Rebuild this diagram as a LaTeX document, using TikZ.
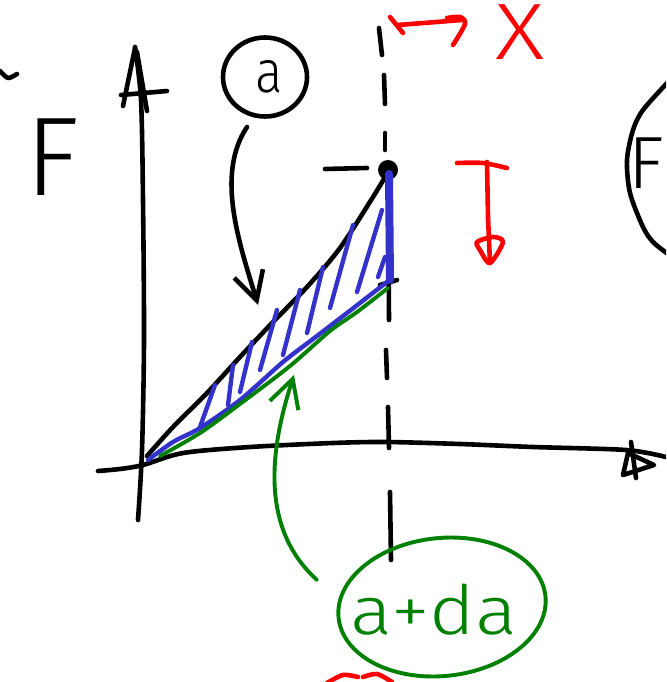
\documentclass[tikz,border=0pt]{standalone}
\usepackage{fontspec}
\usetikzlibrary{arrows.meta,shapes.geometric}
\IfFontExistsTF{Fira Sans Light}{\newfontfamily\handL{Fira Sans Light}}{\newfontfamily\handL{Fira Sans}}
\definecolor{penred}{RGB}{255,0,0}
\definecolor{pengreen}{RGB}{0,128,0}
\definecolor{penblue}{RGB}{51,51,204}
\begin{document}
\begin{tikzpicture}[x=1pt,y=-1pt,line cap=round,line join=round,
  ink/.style={line width=4.6pt},
  blueink/.style={line width=4.4pt,draw=penblue},
  greenink/.style={line width=3.9pt,draw=pengreen},
  redink/.style={line width=4.6pt,draw=penred},
  barb/.style={-{Straight Barb[length=28pt,width=30pt]}},
  word/.style={inner sep=0pt,outer sep=0pt}]
\useasboundingbox (0,0) rectangle (666,682);
\clip (0,0) rectangle (666,682);
% stray stroke at top left
\draw[ink] plot[smooth] coordinates {(0,71) (8,78) (17,74)};
% left F
\node[word,anchor=base west,font=\handL\fontsize{112}{112}\selectfont] (Fleft) at (25,195) {F};
% y axis
\draw[ink] plot[smooth] coordinates {(138,520) (142,450) (144,340) (143,200) (141,100) (135,47)};
\draw[ink] (135,48) -- (123,106);
\draw[ink] (137,52) -- (147,111);
\draw[ink] (121,95) -- (167,91);
% x axis
\draw[ink] plot[smooth] coordinates {(98,471) (120,469) (143,465) (183,453) (250,447) (333,443) (386,442) (460,444) (533,447) (626,450) (666,457)};
\draw[ink] (631,442) -- (636,478);
\draw[ink] (628,453) -- (623,475) -- (654,465) -- cycle;
% point
\node[circle,fill=black,minimum size=20pt,inner sep=0pt] (pt) at (388,170) {};
% dashed vertical
\draw[ink] (379,28) -- (382,55);
\draw[ink] (384,75) -- (385,104);
\draw[ink] (385,133) -- (385,150);
\draw[ink] (pt.center) -- (389,320);
\draw[ink] (386,350) -- (387,378);
\draw[ink] (388,407) -- (389,448);
\draw[ink] (390,492) -- (391,560);
% ticks
\draw[ink] (325,169) -- (367,168);
\draw[ink] (380,285) -- (397,280);
% black curve
\draw[ink] plot[smooth] coordinates {(147,456) (173,427) (207,393) (240,357) (273,322) (307,287) (340,248) (373,197) (388,172)};
% blue area
\draw[blueink] plot[smooth] coordinates {(148,460) (173,442) (200,428) (240,400) (283,362) (313,339) (347,313) (387,282)};
\draw[penblue,line width=8pt] (389,174) -- (390,280);
\foreach \a/\b in {{(200,427)}/{(215,385)},{(228,405)}/{(233,365)},{(240,392)}/{(252,342)},{(260,370)}/{(277,310)},{(283,355)}/{(300,290)},{(307,333)}/{(323,267)},{(330,308)}/{(353,225)},{(357,292)}/{(382,210)},{(378,277)}/{(385,257)}}
  \draw[blueink] \a -- \b;
% green curve
\draw[greenink] plot[smooth] coordinates {(160,456) (200,433) (240,404) (290,366) (330,331) (357,312) (388,288)};
% label a
\node[draw,ellipse,ink,minimum width=84pt,minimum height=79pt,inner sep=0pt] (acirc) at (265,77) {};
\node[word,font=\handL\fontsize{60}{60}\selectfont,xscale=0.85] (alabel) at (269,77) {a};
\coordinate (aStart) at (247,127);
\coordinate (aEnd) at (258,305);
\draw[ink,barb] (aStart) .. controls (215,175) and (240,245) .. (aEnd);
% label a+da
\node[draw=pengreen,line width=3.9pt,ellipse,minimum width=208pt,minimum height=138pt,inner sep=0pt,rotate=6] (adacirc) at (442,607) {};
\node[word,anchor=base,text=pengreen,font=\handL\fontsize{68}{68}\selectfont,xscale=1.15] (adalabel) at (434,634) {a+da};
\coordinate (gStart) at (317,580);
\coordinate (gEnd) at (294,375);
\draw[greenink,barb] (gStart) .. controls (262,530) and (268,455) .. (gEnd);
% red maps-to arrow and X
\draw[redink] (390,17) -- (403,33);
\draw[redink] (398,25) -- (462,20);
\draw[redink] plot[smooth] coordinates {(447,18) (460,17) (465,24) (453,45)};
\node[word,text=penred,font=\handL\fontsize{80}{80}\selectfont,xscale=1.2] (xlabel) at (520,32) {X};
% red down arrow from bar
\draw[redink] plot[smooth] coordinates {(457,163) (483,163) (507,168)};
\draw[redink] (487,162) -- (488,217) -- (490,263);
\draw[redink] plot[smooth cycle] coordinates {(477,242) (493,237) (503,242) (490,263) (480,250)};
% right circled F (cut off by the edge in the reference)
\draw[ink] plot[smooth] coordinates {(668,82) (643,110) (633,130) (627,160) (630,193) (643,227) (653,242) (668,254)};
\node[word,anchor=base west,font=\handL\fontsize{74}{74}\selectfont] (Fright) at (628,188) {F};
% red strokes at bottom
\draw[redink] plot[smooth] coordinates {(327,683) (343,675) (358,677)};
\draw[redink] plot[smooth] coordinates {(363,677) (377,674) (392,682)};
\end{tikzpicture}
\end{document}
